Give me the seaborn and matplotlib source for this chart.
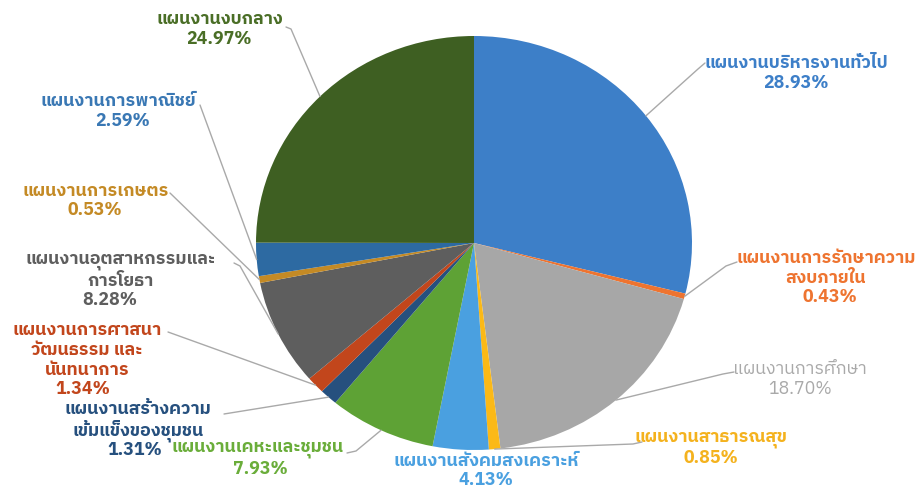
import matplotlib
matplotlib.use("Agg")
import numpy as np
import pandas as pd
import matplotlib.pyplot as plt
import seaborn as sns
from matplotlib import font_manager

# ---------------- data ----------------
categories = [
    "แผนงานบริหารงานทั่วไป",
    "แผนงานการรักษาความสงบภายใน",
    "แผนงานการศึกษา",
    "แผนงานสาธารณสุข",
    "แผนงานสังคมสงเคราะห์",
    "แผนงานเคหะและชุมชน",
    "แผนงานสร้างความเข้มแข็งของชุมชน",
    "แผนงานการศาสนาวัฒนธรรม และนันทนาการ",
    "แผนงานอุตสาหกรรมและการโยธา",
    "แผนงานการเกษตร",
    "แผนงานการพาณิชย์",
    "แผนงานงบกลาง",
]
shares = [28.93, 0.43, 18.70, 0.85, 4.13, 7.93, 1.31, 1.34, 8.28, 0.53, 2.59, 24.97]
label_texts = [
    "แผนงานบริหารงานทั่วไป",
    "แผนงานการรักษาความ\nสงบภายใน",
    "แผนงานการศึกษา",
    "แผนงานสาธารณสุข",
    "แผนงานสังคมสงเคราะห์",
    "แผนงานเคหะและชุมชน",
    "แผนงานสร้างความ\nเข้มแข็งของชุมชน",
    "แผนงานการศาสนา\nวัฒนธรรม และ\nนันทนาการ",
    "แผนงานอุตสาหกรรมและ\nการโยธา",
    "แผนงานการเกษตร",
    "แผนงานการพาณิชย์",
    "แผนงานงบกลาง",
]

# ---------------- styles ----------------
slice_colors = ["#3d7fc8", "#ee7430", "#a7a7a7", "#fbb917", "#4aa0e0", "#5ea235",
                "#26507e", "#c2461c", "#5e5e5e", "#c48a25", "#2d6aa2", "#3e5f22"]
text_colors = ["#3d7fc8", "#ee7430", "#a9a9a9", "#f4b21e", "#4aa0e0", "#6aad3a",
               "#26507e", "#c2461c", "#5e5e5e", "#c48a25", "#3a78b4", "#4a6e26"]
text_weights = ["bold"] * 12
text_weights[2] = "normal"

# position of the percentage line of each label (pixel coords, 919x491 canvas);
# the name lines are stacked directly above it
pct_pos = [(796, 83), (830, 297), (800, 389), (711, 458), (486, 480), (260, 469),
           (135, 450), (83, 389), (110, 300), (95, 210), (123, 121), (219, 39)]
LINE_PX = 19.5
leader_pts = [[(705, 63), (698, 69)], [(737, 262), (726, 266)], [(734, 372), (723, 374)],
              [(642, 442), (633, 444)], None, [(347, 453), (356, 451)],
              [(224, 414)], [(168, 332)], [(234, 263), (240, 266)],
              [(170, 193)], [(200, 105)], [(286, 27), (291, 29)]]
name_dx = [0, -4, 0, 0, 0, -2, 3, 4, 11, 1, -5, 1]

W, H = 919, 491
CX, CY, RX, RY = 474, 243, 218, 207


def find_thai_font():
    try:
        from fontTools.ttLib import TTFont
    except Exception:
        return None
    found = []
    for fe in font_manager.fontManager.ttflist:
        try:
            tt = TTFont(fe.fname, fontNumber=0, lazy=True)
            cmap = tt.getBestCmap() or {}
        except Exception:
            continue
        if 0x0E01 in cmap and 0x0E49 in cmap:
            found.append(fe.name)
    if not found:
        return None
    for pref in found:
        if "Thai" in pref:
            return pref
    return found[0]


sns.set_theme(style="white")
thai = find_thai_font()
fams = ([thai] if thai else []) + ["DejaVu Sans"]
plt.rcParams["font.family"] = fams

fig = plt.figure(figsize=(W / 100, H / 100), dpi=100, facecolor="white")
ax = fig.add_axes([0, 0, 1, 1])

df = pd.DataFrame({"category": categories, "share": shares})
palette = sns.color_palette(slice_colors)
wedges, _ = ax.pie(df["share"], colors=palette, startangle=90, counterclock=False,
                   radius=1.0, center=(0, 0), wedgeprops=dict(linewidth=0))
ax.set_aspect("auto")
ax.set_xlim((0 - CX) / RX, (W - CX) / RX)
ax.set_ylim((CY - H) / RY, (CY - 0) / RY)
ax.axis("off")


def px(x, y):
    return ((x - CX) / RX, (CY - y) / RY)


FS = 12.8
for i, w in enumerate(wedges):
    mid = np.deg2rad((w.theta1 + w.theta2) / 2)
    edge = (np.cos(mid), np.sin(mid))
    if leader_pts[i] is not None:
        pts = [px(*p) for p in leader_pts[i]] + [edge]
        xs, ys = zip(*pts)
        ax.plot(xs, ys, color="#a9a9a9", lw=1.0, solid_capstyle="round", zorder=1)
    kw = dict(ha="center", fontsize=FS, fontweight=text_weights[i],
              color=text_colors[i], family=fams)
    x0, y0 = pct_pos[i]
    ax.text(*px(x0, y0), f"{df['share'][i]:.2f}%", va="center", **kw)
    n_lines = label_texts[i].count("\n") + 1
    yc = y0 - LINE_PX * (n_lines + 1) / 2
    ax.text(*px(x0 + name_dx[i], yc), label_texts[i], va="center",
            linespacing=1.12, **kw)

fig.savefig("out.png", dpi=100, facecolor="white")
